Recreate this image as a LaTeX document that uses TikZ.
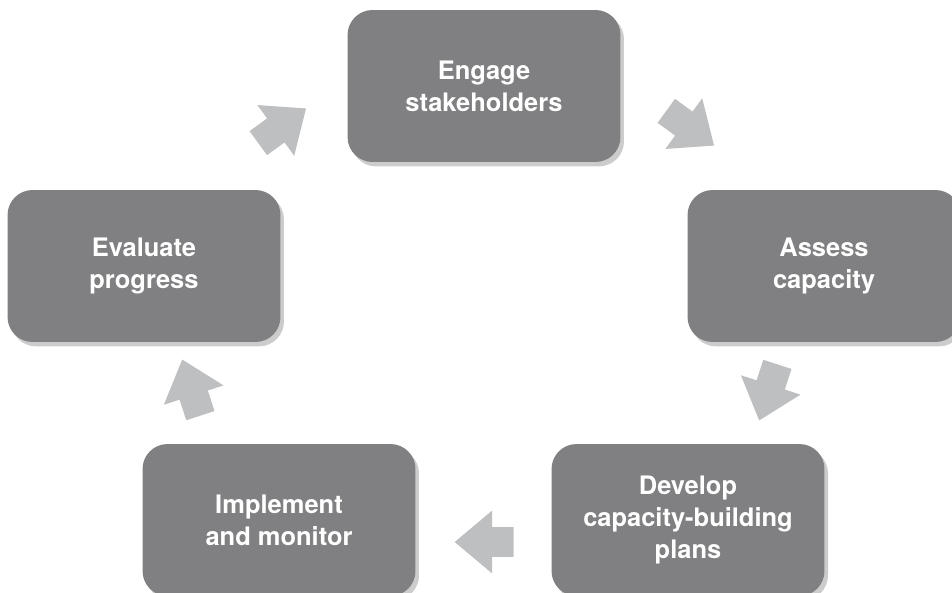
\documentclass[tikz,border=0pt]{standalone}
\usepackage{fontspec}
\setmainfont{TeX Gyre Heros}
\usetikzlibrary{positioning, shapes.arrows, shadows}
\definecolor{stagegray}{HTML}{808083}
\definecolor{arrowgray}{HTML}{BEBFC1}
\tikzstyle{stage} = [rectangle, fill=stagegray, text=white, align=center,
minimum width=5.46cm, minimum height=3.04cm, rounded corners=0.5cm,
font=\fontsize{14.5pt}{18.2pt}\selectfont\bfseries,
drop shadow={shadow xshift=2pt, shadow yshift=-2.5pt, opacity=0.2, fill=black}]
\tikzstyle{cycarrow} = [single arrow, fill=arrowgray, inner xsep=0pt, inner ysep=0.29cm,
minimum height=1.18cm, single arrow head extend=0.33cm, single arrow tip angle=80]

\begin{document}
\begin{tikzpicture}[x=0.02cm, y=-0.02cm]
        \useasboundingbox (0,0) rectangle (952,592);
        \node (Engage) [stage] at (484,86) {Engage\\stakeholders};
        \node (Assess) [stage] at (824,266) {Assess\\capacity};
        \node (Develop) [stage] at (688,520) {Develop\\capacity-building\\plans};
        \node (Implement) [stage] at (279,520) {Implement\\and monitor};
        \node (Evaluate) [stage] at (144,266) {Evaluate\\progress};

        \node (ToEngage) [cycarrow, rotate=36] at (275,131) {};
        \node (ToAssess) [cycarrow, rotate=-36] at (683,123) {};
        \node (ToDevelop) [cycarrow, rotate=-108] at (771,384) {};
        \node (ToImplement) [cycarrow, rotate=180] at (493,542) {};
        \node (ToEvaluate) [cycarrow, rotate=108] at (194,396) {};
\end{tikzpicture}
\end{document}
